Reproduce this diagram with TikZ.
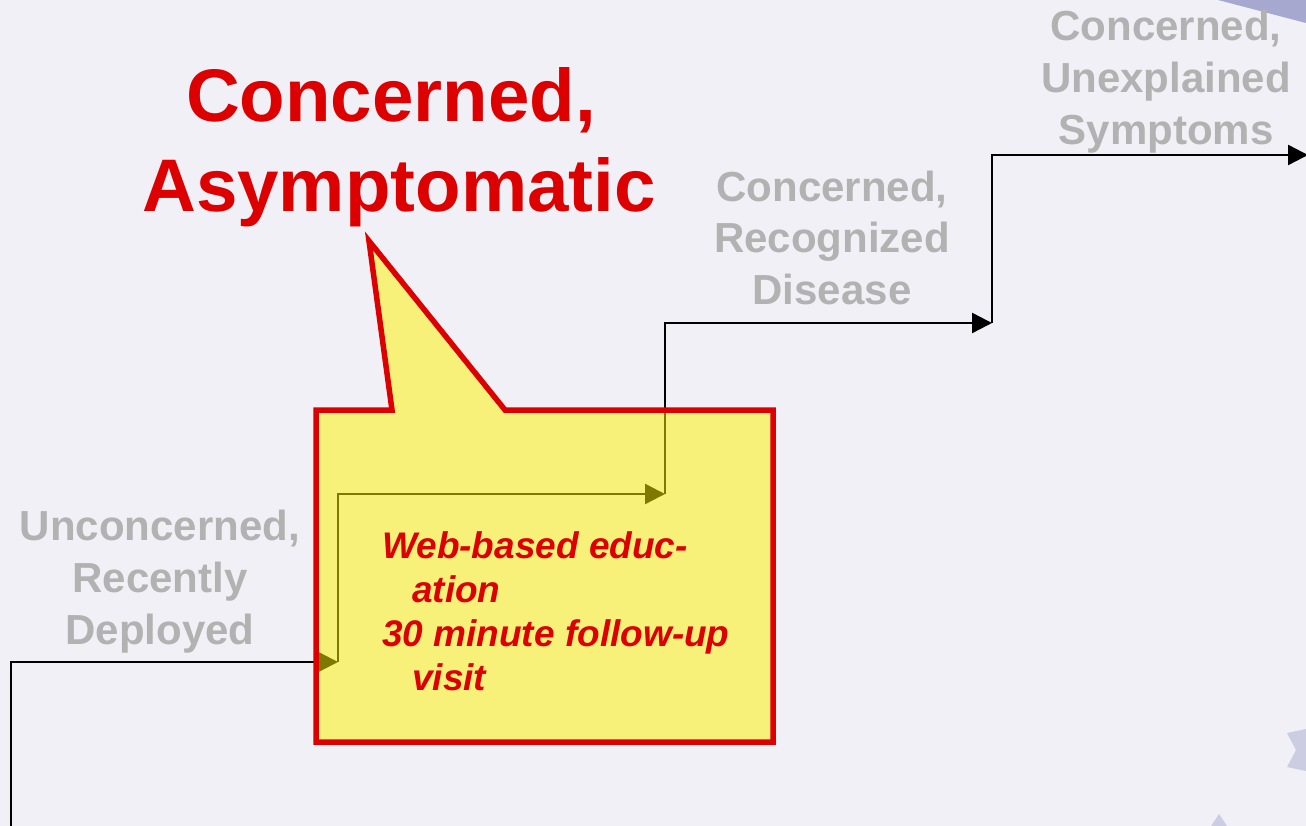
\documentclass[tikz,border=0pt]{standalone}
\usepackage{fontspec}
\setmainfont{Liberation Sans}
\usetikzlibrary{arrows.meta}
\definecolor{bgcol}{RGB}{240,240,246}
\definecolor{calloutred}{RGB}{220,0,0}
\definecolor{stagegray}{RGB}{178,178,178}
\definecolor{wedgeblue}{RGB}{166,168,208}
\definecolor{starblue}{RGB}{204,205,226}
\tikzset{
  stage/.style={text=stagegray, font=\fontsize{42}{52}\selectfont\bfseries, align=center, anchor=base, inner sep=0pt},
  stair/.style={line width=2.4pt, draw=black, -{Triangle[length=20pt,width=20pt]}},
  callout/.style={draw=calloutred, line width=5.5pt, fill=yellow, fill opacity=0.5, draw opacity=1, line join=miter},
  title/.style={text=calloutred, font=\fontsize{74.5}{90}\selectfont\bfseries, align=center, anchor=base, inner sep=0pt},
  action/.style={text=calloutred, font=\fontsize{37}{44}\selectfont\bfseries\itshape, align=left, anchor=base west, inner sep=0pt},
}
\begin{document}
\begin{tikzpicture}[x=1pt,y=-1pt]
  % canvas
  \fill[bgcol] (0,0) rectangle (1306,826);
  \useasboundingbox (0,0) rectangle (1306,826);

  % decorative corner shapes
  \fill[wedgeblue] (1218,0) -- (1306,0) -- (1306,23) -- cycle;
  \fill[starblue] (1287,733) -- (1306,729) -- (1306,771) -- (1287,767) -- (1296,750) -- cycle;
  \fill[starblue] (1219,814) -- (1227,826) -- (1211,826) -- cycle;

  % staircase of stages
  \coordinate (s0) at (11,826);
  \coordinate (s1) at (338,662);
  \coordinate (s2) at (665,494);
  \coordinate (s3) at (992,323);
  \coordinate (s4) at (1308,155);
  \draw[stair] (s0) |- (s1);
  \draw[stair] (s1) |- (s2);
  \draw[stair] (s2) |- (s3);
  \draw[stair] (s3) |- (s4);

  % stage labels (anchored at the baseline of their last line)
  \node[stage] (unconcerned) at (160,644) {Unconcerned,\\Recently\\Deployed};
  \node[stage] (recognized) at (832,305) {Concerned,\\Recognized\\Disease};
  \node[stage] (unexplained) at (1166,145) {Concerned,\\Unexplained\\Symptoms};

  % callout for the highlighted stage
  \draw[callout] (316,410) -- (392,410) -- (369,241) -- (505,410) -- (773,410)
    -- (773,742) -- (316,742) -- cycle;
  \node[title] (asymptomatic) at (399,212) {Concerned,\hspace*{16pt}\\Asymptomatic};
  \node[action] (actions) at (382,690)
    {Web-based educ-\\\hspace*{30pt}ation\\30 minute follow-up\\\hspace*{30pt}visit};
\end{tikzpicture}
\end{document}
